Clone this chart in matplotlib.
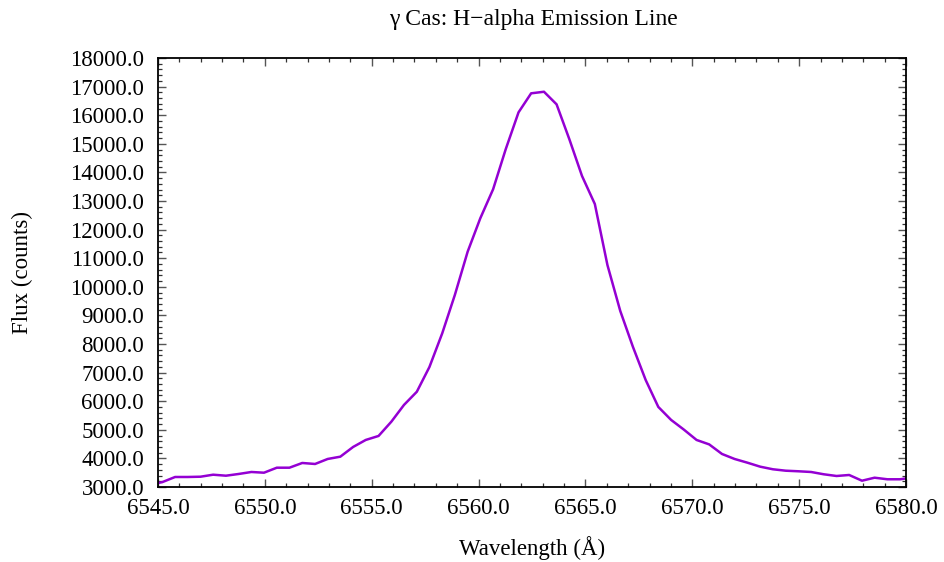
import matplotlib
matplotlib.use("Agg")
import matplotlib.pyplot as plt
from matplotlib.ticker import MultipleLocator, FormatStrFormatter

plt.rcParams['font.family'] = ['Liberation Serif', 'DejaVu Serif']

wavelength = [6544.60, 6545.20, 6545.80, 6546.39, 6546.99, 6547.58, 6548.18, 6548.77,
              6549.37, 6549.96, 6550.56, 6551.15, 6551.75, 6552.35, 6552.94, 6553.53,
              6554.13, 6554.72, 6555.32, 6555.92, 6556.51, 6557.11, 6557.70, 6558.30,
              6558.89, 6559.49, 6560.08, 6560.68, 6561.27, 6561.87, 6562.46, 6563.06,
              6563.65, 6564.25, 6564.84, 6565.44, 6566.03, 6566.63, 6567.22, 6567.82,
              6568.41, 6569.01, 6569.60, 6570.20, 6570.79, 6571.39, 6571.98, 6572.58,
              6573.18, 6573.77, 6574.37, 6574.96, 6575.56, 6576.15, 6576.75, 6577.34,
              6577.94, 6578.53, 6579.13, 6579.72, 6580.32]
flux = [3080, 3170, 3350, 3350, 3360, 3430, 3395, 3455,
        3525, 3500, 3675, 3675, 3840, 3805, 3980, 4060,
        4400, 4645, 4785, 5285, 5870, 6330, 7195, 8375,
        9715, 11230, 12395, 13410, 14810, 16100, 16765, 16820,
        16380, 15155, 13875, 12895, 10760, 9155, 7905, 6740,
        5800, 5345, 5010, 4645, 4490, 4155, 3980, 3850,
        3710, 3620, 3570, 3550, 3525, 3445, 3385, 3420,
        3220, 3325, 3270, 3270, 3330]

title = "\u03b3 Cas: H\u2212alpha Emission Line"
xlabel = "Wavelength (\u00c5)"
ylabel = "Flux (counts)"

fig = plt.figure(figsize=(9.45, 5.62), dpi=100)
ax = fig.add_axes([158/945, 1 - 487/562, (906 - 158)/945, (487 - 58)/562])

ax.plot(wavelength, flux, color='#9400D3', lw=1.8, clip_on=True)

ax.set_xlim(6545, 6580)
ax.set_ylim(3000, 18000)
ax.xaxis.set_major_locator(MultipleLocator(5))
ax.xaxis.set_minor_locator(MultipleLocator(1))
ax.yaxis.set_major_locator(MultipleLocator(1000))
ax.yaxis.set_minor_locator(MultipleLocator(200))
ax.xaxis.set_major_formatter(FormatStrFormatter('%.1f'))
ax.yaxis.set_major_formatter(FormatStrFormatter('%.1f'))

fs = 16.5
ax.tick_params(which='both', direction='in', top=True, right=True, labelsize=fs)
ax.tick_params(which='major', length=6, width=1.0, color='#555555')
ax.tick_params(which='minor', length=3, width=0.9, color='#333333')
ax.tick_params(axis='y', which='major', pad=10)
ax.tick_params(axis='x', which='major', pad=8)
for s in ax.spines.values():
    s.set_linewidth(1.3)

fig.text(533/945, 1 - 20/562, title, fontsize=17, ha='center', va='center')
fig.text(532/945, 1 - 548/562, xlabel, fontsize=fs, ha='center', va='center')
fig.text(22/945, 1 - 272/562, ylabel, fontsize=fs, ha='center', va='center', rotation=90)

fig.savefig("out.png", dpi=100)
